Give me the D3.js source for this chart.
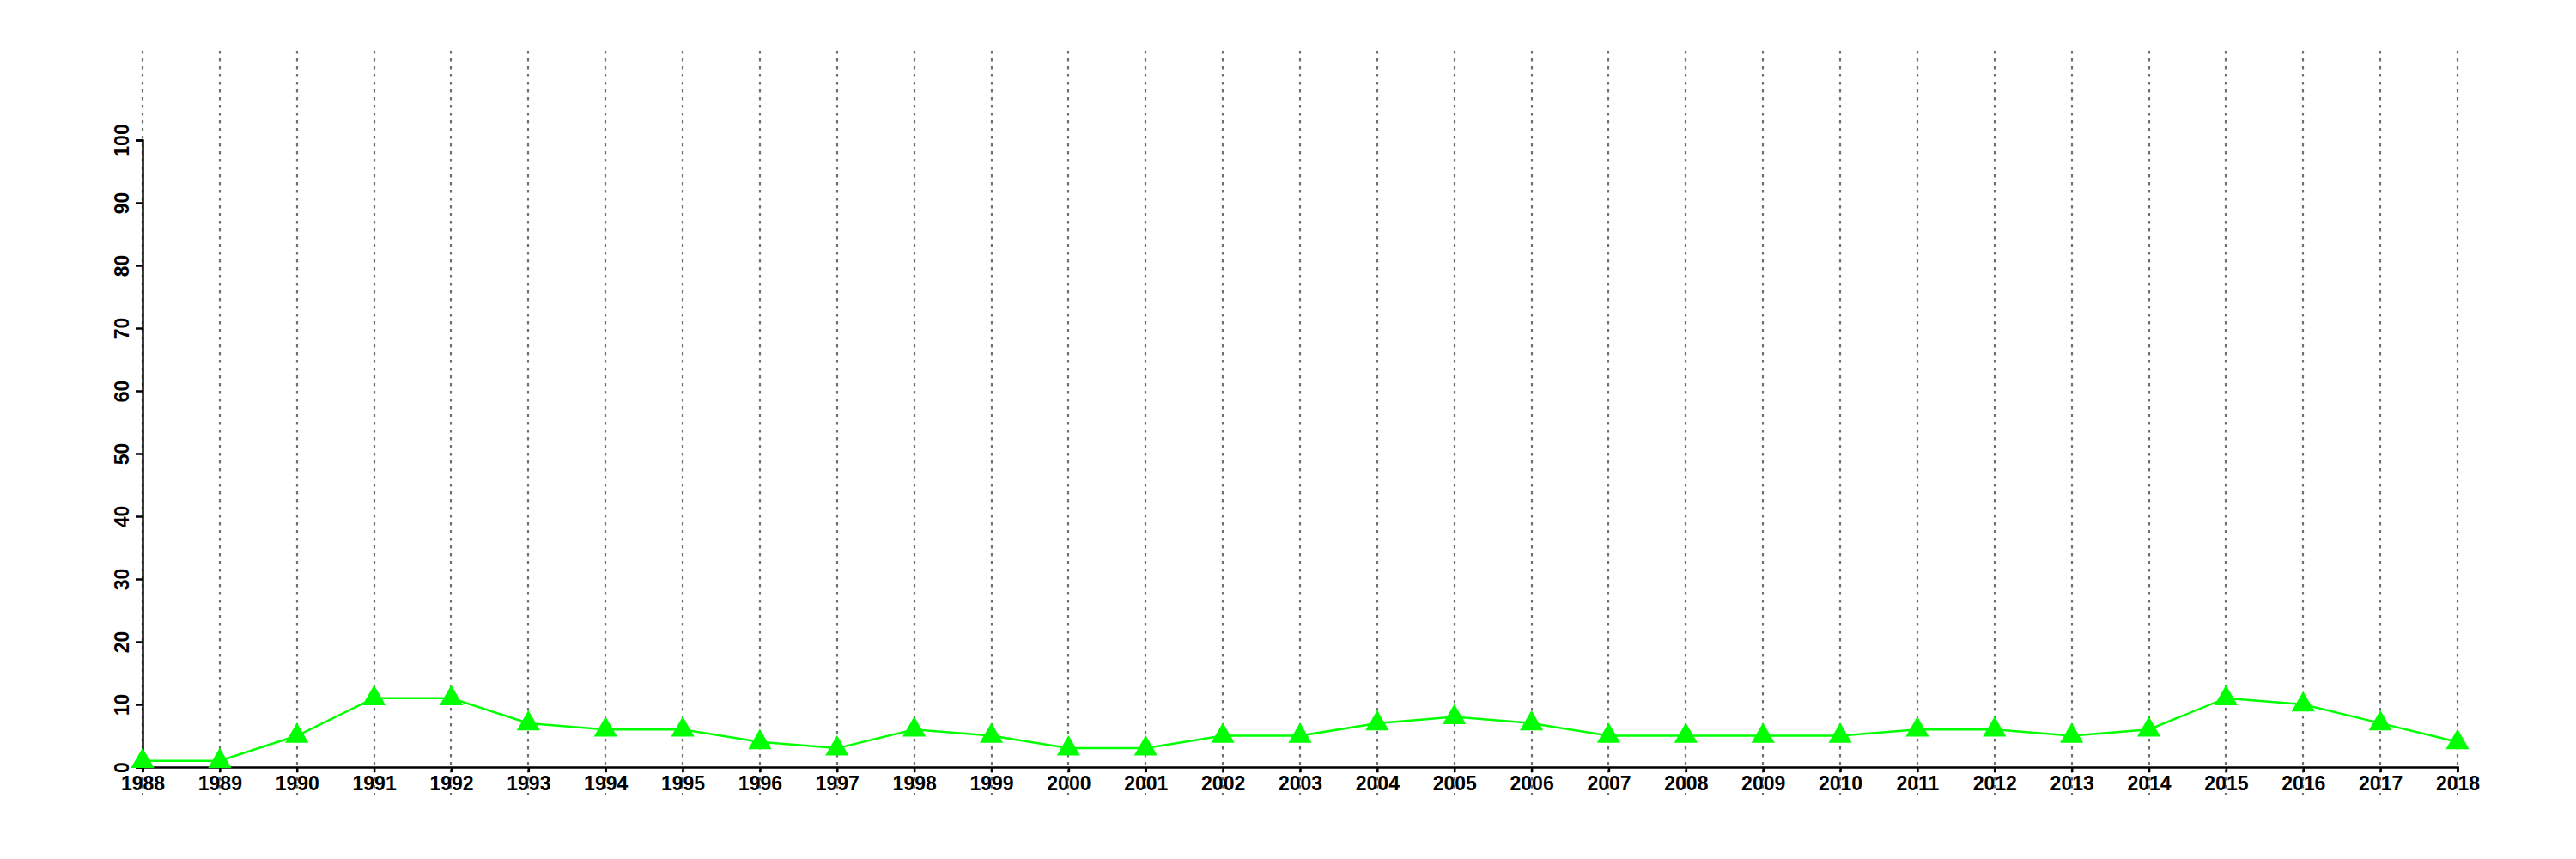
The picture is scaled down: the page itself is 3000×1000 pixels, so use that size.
<!DOCTYPE html>
<html><head><meta charset="utf-8">
<script src="https://cdn.jsdelivr.net/npm/d3@7"></script>
<style>body{margin:0;background:#fff}</style>
</head><body>
<script>
const years = d3.range(1988, 2019);
const values = [1,1,5,11,11,7,6,6,4,3,6,5,3,3,5,5,7,8,7,5,5,5,5,6,6,5,6,11,10,7,4];
const yTicks = [0,10,20,30,40,50,60,70,80,90,100];

const W = 3000, H = 1000;
const svg = d3.select("body").append("svg").attr("width", W).attr("height", H)
  .style("font-family", "'Liberation Sans', Arial, sans-serif");

const x = d3.scaleLinear().domain([1988, 2018]).range([166, 2862]);
const y = d3.scaleLinear().domain([0, 100]).range([893, 163]);

// grid lines
svg.append("g").selectAll("line").data(years).join("line")
  .attr("x1", d => Math.round(x(d))).attr("x2", d => Math.round(x(d)))
  .attr("y1", 59).attr("y2", 926)
  .attr("stroke", "#707070").attr("stroke-width", 2.2)
  .attr("stroke-dasharray", "3.5,5.5");

// x axis
const xa = svg.append("g").attr("transform", `translate(0,${y(0)})`)
  .call(d3.axisBottom(x).tickValues(years).tickFormat(d3.format("d")).tickSize(6).tickPadding(5));
xa.select(".domain").attr("stroke-width", 2.5).attr("stroke", "#000");
xa.selectAll(".tick line").attr("stroke-width", 2.5);
xa.selectAll("text").attr("font-size", 23).attr("font-weight", "bold").attr("fill", "#000");

// y axis
const ya = svg.append("g").attr("transform", `translate(${x(1988)},0)`)
  .call(d3.axisLeft(y).tickValues(yTicks).tickSize(8).tickPadding(0));
ya.select(".domain").attr("stroke-width", 2.5).attr("stroke", "#000");
ya.selectAll(".tick line").attr("stroke-width", 2.5);
ya.selectAll("text").attr("font-size", 23).attr("font-weight", "bold").attr("fill", "#000")
  .attr("text-anchor", "middle").attr("x", null).attr("dy", null)
  .attr("transform", "translate(-16,0) rotate(-90)");

// line
svg.append("path").datum(values.map((v, i) => [years[i], v]))
  .attr("fill", "none").attr("stroke", "#00ff00").attr("stroke-width", 2.5)
  .attr("d", d3.line().x(d => x(d[0])).y(d => y(d[1])));

// markers
const tri = d3.symbol().type(d3.symbolTriangle).size(320);
svg.append("g").selectAll("path").data(values).join("path")
  .attr("d", tri)
  .attr("transform", (d, i) => `translate(${x(years[i])},${y(d) + 0.5})`)
  .attr("fill", "#00ff00");
</script>
</body></html>
